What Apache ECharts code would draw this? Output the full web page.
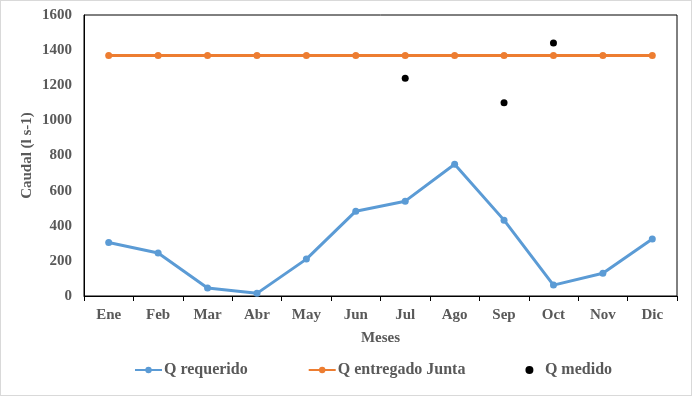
<!DOCTYPE html>
<html>
<head>
<meta charset="utf-8">
<script src="https://cdn.jsdelivr.net/npm/echarts@6/dist/echarts.min.js"></script>
<style>
  html, body { margin: 0; padding: 0; background: #fff; }
  #chart { width: 690px; height: 394px; border: 1px solid #d9d9d9; }
</style>
</head>
<body>
<div id="chart"></div>
<script>
const meses = ['Ene', 'Feb', 'Mar', 'Abr', 'May', 'Jun', 'Jul', 'Ago', 'Sep', 'Oct', 'Nov', 'Dic'];
const qRequerido = [305, 245, 45, 15, 210, 483, 540, 750, 432, 62, 130, 324];
const qEntregado = [1370, 1370, 1370, 1370, 1370, 1370, 1370, 1370, 1370, 1370, 1370, 1370];
const qMedido = [null, null, null, null, null, null, 1240, null, 1100, 1440, null, null];

const font = "'Liberation Serif', 'Times New Roman', serif";
const gray = '#595959';

const myChart = echarts.init(document.getElementById('chart'));

const option = {
  animation: false,
  textStyle: { fontFamily: font },
  grid: {
    left: 83, right: 14, top: 14, bottom: 99,
    show: true, borderColor: '#000', borderWidth: 1
  },
  legend: {
    left: 128,
    bottom: 12,
    itemGap: 60,
    itemWidth: 27,
    itemHeight: 8,
    textStyle: {
      fontFamily: font, fontWeight: 'bold', fontSize: 16, color: gray,
      padding: [0, 0, 0, -3]
    },
    data: [
      { name: 'Q requerido' },
      { name: 'Q entregado Junta' },
      { name: 'Q medido' }
    ]
  },
  xAxis: {
    type: 'category',
    data: meses,
    boundaryGap: true,
    name: 'Meses',
    nameLocation: 'middle',
    nameGap: 35,
    nameTextStyle: { fontFamily: font, fontWeight: 'bold', fontSize: 15, color: gray },
    axisLine: { lineStyle: { color: '#000', width: 1 } },
    axisTick: { show: true, inside: false, length: 5, lineStyle: { color: '#000' } },
    axisLabel: { fontFamily: font, fontWeight: 'bold', fontSize: 15, color: gray, margin: 12 },
    splitLine: { show: false }
  },
  yAxis: {
    type: 'value',
    min: 0,
    max: 1600,
    interval: 200,
    name: 'Caudal (l s-1)',
    nameLocation: 'middle',
    nameGap: 49,
    nameMoveOverlap: false,
    nameTextStyle: { fontFamily: font, fontWeight: 'bold', fontSize: 15, color: gray },
    axisLine: { show: true, lineStyle: { color: '#000', width: 1 } },
    axisTick: { show: false },
    axisLabel: {
      fontFamily: font, fontWeight: 'bold', fontSize: 15, color: gray, margin: 12,
      formatter: (v) => String(v)
    },
    splitLine: { show: false }
  },
  series: [
    {
      name: 'Q requerido',
      type: 'line',
      data: qRequerido,
      symbol: 'circle',
      symbolSize: 7,
      color: '#5b9bd5',
      lineStyle: { width: 3, color: '#5b9bd5' },
      itemStyle: { color: '#5b9bd5' }
    },
    {
      name: 'Q entregado Junta',
      type: 'line',
      data: qEntregado,
      symbol: 'circle',
      symbolSize: 7,
      color: '#ed7d31',
      lineStyle: { width: 3, color: '#ed7d31' },
      itemStyle: { color: '#ed7d31' }
    },
    {
      name: 'Q medido',
      type: 'scatter',
      data: qMedido,
      symbol: 'circle',
      symbolSize: 7,
      color: '#000',
      itemStyle: { color: '#000', opacity: 1 }
    }
  ]
};

option && myChart.setOption(option);
</script>
</body>
</html>
